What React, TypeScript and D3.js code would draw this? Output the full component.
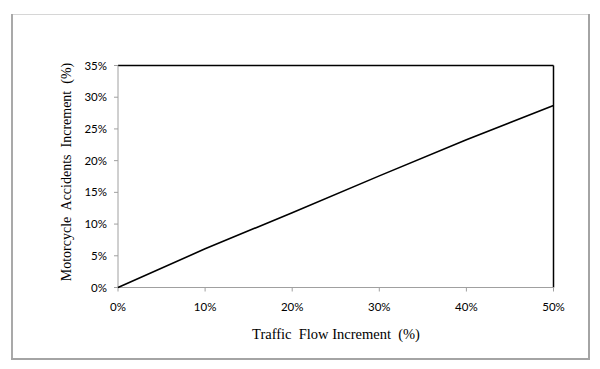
import React from "react";
import * as d3 from "d3";

const flowIncrement = [0, 10, 20, 30, 40, 50];
const accidentIncrement = [0, 6.1, 11.8, 17.6, 23.3, 28.7];
const xTicks = [0, 10, 20, 30, 40, 50];
const yTicks = [0, 5, 10, 15, 20, 25, 30, 35];
const xTitle = "Traffic  Flow Increment  (%)";
const yTitle = "Motorcycle  Accidents  Increment  (%)";

const W = 600;
const H = 369;
const plot = { left: 118, right: 553.5, top: 65.5, bottom: 287.5 };

export default function App() {
  const x = d3.scaleLinear().domain([0, 50]).range([plot.left, plot.right]);
  const y = d3.scaleLinear().domain([0, 35]).range([plot.bottom, plot.top]);
  const pts = flowIncrement.map((v, i) => [v, accidentIncrement[i]] as [number, number]);
  const line = d3
    .line<[number, number]>()
    .x((d) => x(d[0]))
    .y((d) => y(d[1]))(pts);
  const tickFont = "Lato, 'Open Sans', sans-serif";
  const serif = "'Liberation Serif', 'Times New Roman', serif";
  return (
    <svg
      width={W}
      height={H}
      style={{ position: "absolute", left: 0, top: 0, background: "#fff" }}
    >
      <rect x={0} y={0} width={W} height={H} fill="#fff" />
      {/* outer frame */}
      <line x1={11.5} y1={14.5} x2={590} y2={14.5} stroke="#d6d6d6" strokeWidth={1} />
      <line x1={12} y1={14} x2={12} y2={360} stroke="#a9a9a9" strokeWidth={2} />
      <line x1={589} y1={14} x2={589} y2={360} stroke="#a4a4a4" strokeWidth={2} />
      <line x1={11} y1={359} x2={590} y2={359} stroke="#a4a4a4" strokeWidth={2} />

      {/* plot frame: top and right black */}
      <line x1={plot.left} y1={plot.top} x2={plot.right} y2={plot.top} stroke="#000" strokeWidth={1.5} />
      <line x1={plot.right} y1={plot.top} x2={plot.right} y2={plot.bottom} stroke="#000" strokeWidth={1.5} />

      {/* axes */}
      <line x1={plot.left} y1={plot.top} x2={plot.left} y2={plot.bottom} stroke="#a0a0a0" strokeWidth={1} />
      <line x1={plot.left} y1={plot.bottom} x2={plot.right} y2={plot.bottom} stroke="#a0a0a0" strokeWidth={1} />

      {yTicks.map((t) => (
        <g key={"y" + t}>
          <line x1={plot.left - 4} x2={plot.left} y1={y(t)} y2={y(t)} stroke="#a0a0a0" />
          <text
            x={plot.left - 11}
            y={y(t)}
            dy="0.35em"
            textAnchor="end"
            fontFamily={tickFont}
            fontSize={11.5}
            fill="#000"
          >
            {t + "%"}
          </text>
        </g>
      ))}
      {xTicks.map((t) => (
        <g key={"x" + t}>
          <line x1={x(t)} x2={x(t)} y1={plot.bottom} y2={plot.bottom + 4} stroke="#a0a0a0" />
          <text
            x={x(t)}
            y={plot.bottom + 19}
            dy="0.35em"
            textAnchor="middle"
            fontFamily={tickFont}
            fontSize={11.5}
            fill="#000"
          >
            {t + "%"}
          </text>
        </g>
      ))}

      <path d={line || ""} fill="none" stroke="#000" strokeWidth={1.6} />

      <text
        x={336}
        y={339}
        textAnchor="middle"
        fontFamily={serif}
        fontSize={14.5}
        fill="#000"
        style={{ whiteSpace: "pre" }}
      >
        {xTitle}
      </text>
      <text
        transform={`translate(71, 172) rotate(-90)`}
        textAnchor="middle"
        fontFamily={serif}
        fontSize={14}
        fill="#000"
        style={{ whiteSpace: "pre" }}
      >
        {yTitle}
      </text>
    </svg>
  );
}
